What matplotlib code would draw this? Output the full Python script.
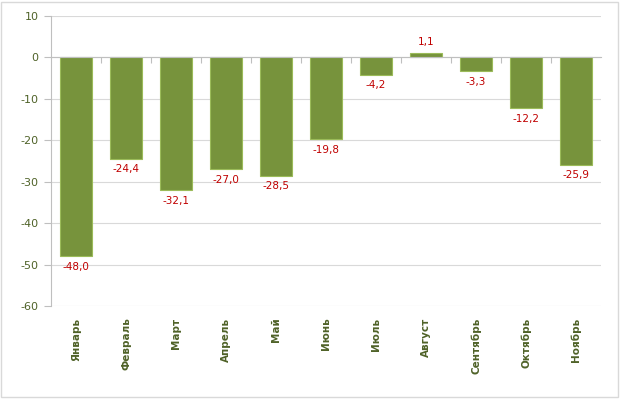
import matplotlib.pyplot as plt
from matplotlib.patches import Rectangle
import matplotlib.transforms as mtransforms

# Данные
months = ['Январь', 'Февраль', 'Март', 'Апрель', 'Май', 'Июнь',
          'Июль', 'Август', 'Сентябрь', 'Октябрь', 'Ноябрь']
values = [-48.0, -24.4, -32.1, -27.0, -28.5, -19.8, -4.2, 1.1, -3.3, -12.2, -25.9]
yticks = [10, 0, -10, -20, -30, -40, -50, -60]

W, H = 621, 399
fig = plt.figure(figsize=(W / 100, H / 100), dpi=100)
ax = fig.add_axes([51 / W, 1 - 306 / H, 550 / W, 290 / H])

x = list(range(len(months)))
ax.bar(x, values, width=0.64, color='#77933C', edgecolor='#9BBB59', linewidth=0.8, zorder=3)

ax.set_xlim(-0.5, len(months) - 0.5)
ax.set_ylim(-60, 10)
ax.set_yticks(yticks)
ax.set_yticklabels([str(t) for t in yticks], fontsize=8, color='#4F6228')
ax.grid(axis='y', color='#D9D9D9', linewidth=0.8, zorder=0)

for s in ['top', 'right']:
    ax.spines[s].set_visible(False)
ax.spines['left'].set_color('#BFBFBF')
ax.spines['bottom'].set_position(('data', 0))
ax.spines['bottom'].set_color('#BFBFBF')
ax.spines['bottom'].set_zorder(4)
ax.tick_params(axis='y', length=5, color='#BFBFBF', pad=4)

# метки на границах категорий
ax.set_xticks([i + 0.5 for i in x[:-1]])
ax.set_xticklabels([])
ax.tick_params(axis='x', length=4, color='#BFBFBF', direction='out')

# подписи месяцев внизу
trans = mtransforms.blended_transform_factory(ax.transData, ax.transAxes)
for i, m in enumerate(months):
    ax.text(i, -0.04, m, transform=trans, rotation=90, ha='center', va='top',
            fontsize=7.5, fontweight='bold', color='#4F6228')

# подписи значений
for i, v in enumerate(values):
    lbl = ('%.1f' % v).replace('.', ',')
    if v < 0:
        ax.annotate(lbl, (i, v), xytext=(0, -4), textcoords='offset points',
                    ha='center', va='top', fontsize=7.5, color='#C00000')
    else:
        ax.annotate(lbl, (i, v), xytext=(0, 4), textcoords='offset points',
                    ha='center', va='bottom', fontsize=7.5, color='#C00000')

# рамка
fig.patches.append(Rectangle((1 / W, 2 / H), 617 / W, 395 / H, transform=fig.transFigure,
                             fill=False, edgecolor='#D9D9D9', linewidth=1))

fig.savefig('out.png', dpi=100)
